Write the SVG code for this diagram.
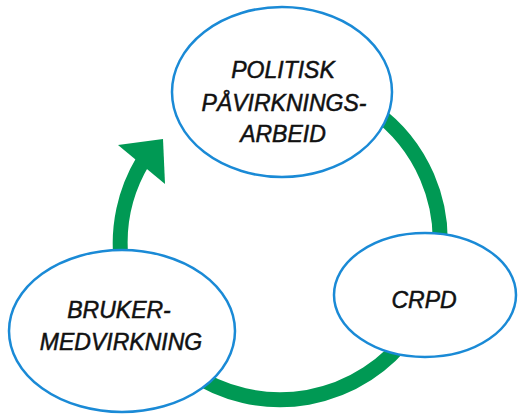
<svg xmlns="http://www.w3.org/2000/svg" width="518" height="415" viewBox="0 0 518 415">
<style>
.ring{fill:none;stroke:#009954;stroke-width:15}
.node ellipse{fill:#fff;stroke:#1a8ad6;stroke-width:2.5}
.node text{font-family:"Liberation Sans",Arial,sans-serif;font-style:italic;font-size:23px;fill:#111;stroke:#111;stroke-width:0.5;text-anchor:middle}
</style>
<rect width="518" height="415" fill="#fff"/>
<g id="connectors">
<path class="ring" d="M121.3,262 A160,160 0 0 1 143,161"/>
<polygon points="118,145 163,139 165,184" fill="#009954"/>
<path class="ring" d="M373,110 A160,160 0 0 1 438.7,262"/>
<path class="ring" d="M410,333 A160,160 0 0 1 190,372"/>
</g>
<g id="politisk" class="node">
<ellipse cx="282" cy="92" rx="110" ry="85"/>
<text x="283" y="78">POLITISK</text>
<text x="284" y="111">PÅVIRKNINGS-</text>
<text x="283" y="142">ARBEID</text>
</g>
<g id="crpd" class="node">
<ellipse cx="425" cy="295" rx="91" ry="62"/>
<text x="424" y="308">CRPD</text>
</g>
<g id="brukermedvirkning" class="node">
<ellipse cx="122" cy="331" rx="113" ry="81"/>
<text x="119" y="318">BRUKER-</text>
<text x="121" y="350">MEDVIRKNING</text>
</g>
</svg>
